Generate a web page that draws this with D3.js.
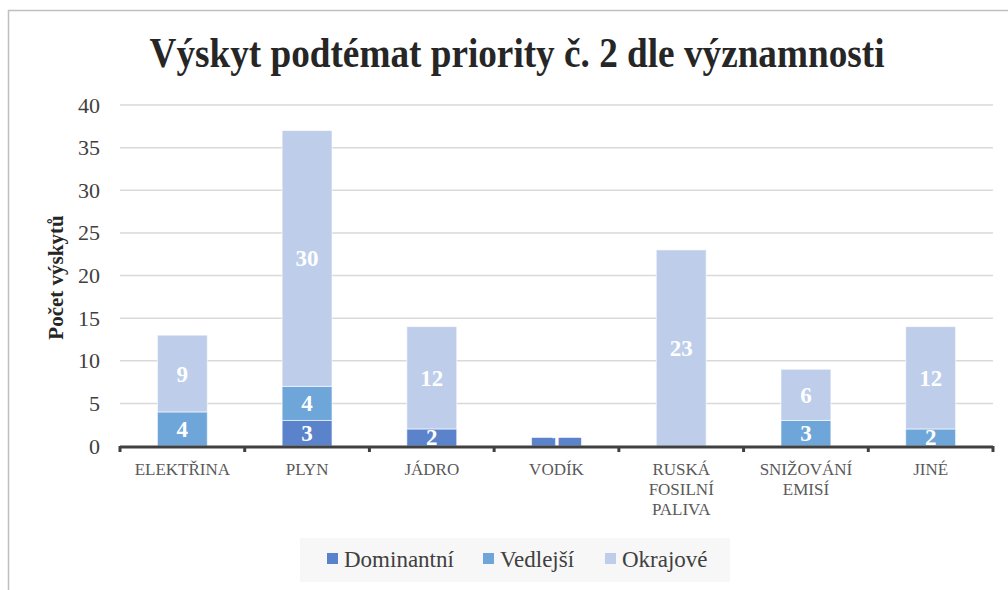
<!DOCTYPE html>
<html>
<head>
<meta charset="utf-8">
<script src="https://cdn.jsdelivr.net/npm/d3@7"></script>
<style>
  body { margin: 0; background: #fff; }
</style>
</head>
<body>
<svg id="chart" width="1008" height="590" font-family="Liberation Serif"></svg>
<script>
// data
const categories = [["ELEKTŘINA"], ["PLYN"], ["JÁDRO"], ["VODÍK"], ["RUSKÁ", "FOSILNÍ", "PALIVA"], ["SNIŽOVÁNÍ", "EMISÍ"], ["JINÉ"]];
const seriesNames = ["Dominantní", "Vedlejší", "Okrajové"];
const dominantni = [0, 3, 2, 1, 0, 0, 0];
const vedlejsi = [4, 4, 0, 0, 0, 3, 2];
const okrajove = [9, 30, 12, 0, 23, 6, 12];
const yTicks = [0, 5, 10, 15, 20, 25, 30, 35, 40];
const colors = ["#5b83cb", "#6fa6da", "#bdcdea"];

const FONT = "Liberation Serif";
const svg = d3.select("#chart");
const margin = { left: 120, right: 15, top: 105, bottom: 144 };
const width = 1008, height = 590;

// outer frame
svg.append("rect")
    .attr("x", 8.5).attr("y", 10.5)
    .attr("width", 1010).attr("height", 600)
    .attr("fill", "#fff")
    .attr("stroke", "#bfbfbf")
    .attr("stroke-width", 1.5);

svg.append("text")
    .attr("x", 517).attr("y", 67)
    .attr("text-anchor", "middle")
    .attr("font-size", 42)
    .attr("font-weight", "bold")
    .attr("fill", "#262626")
    .attr("textLength", 735)
    .attr("lengthAdjust", "spacingAndGlyphs")
    .text("Výskyt podtémat priority č. 2 dle významnosti");

const x = d3.scaleBand()
    .domain(d3.range(categories.length))
    .range([margin.left, width - margin.right])
    .paddingInner(0.6)
    .paddingOuter(0.3);

const y = d3.scaleLinear()
    .domain([0, 40])
    .range([height - margin.bottom, margin.top]);

// gridlines
svg.append("g")
    .selectAll("line")
    .data(yTicks.slice(1))
    .join("line")
    .attr("x1", margin.left).attr("x2", width - margin.right)
    .attr("y1", d => y(d)).attr("y2", d => y(d))
    .attr("stroke", "#d9d9d9")
    .attr("stroke-width", 1.5);

// y axis labels
const yAxis = svg.append("g")
    .attr("transform", `translate(${margin.left - 8},0)`)
    .call(d3.axisLeft(y).tickValues(yTicks).tickSize(0).tickPadding(12));
yAxis.select(".domain").remove();
yAxis.attr("font-family", FONT);
yAxis.selectAll("text")
    .attr("font-size", 22)
    .attr("fill", "#404040");

svg.append("text")
    .attr("transform", `translate(63,${(y(0) + y(40)) / 2 + 2}) rotate(-90)`)
    .attr("text-anchor", "middle")
    .attr("font-size", 21)
    .attr("font-weight", "bold")
    .attr("fill", "#262626")
    .text("Počet výskytů");

// stacked bars
const rows = categories.map((c, i) => ({ i, Dominantní: dominantni[i], Vedlejší: vedlejsi[i], Okrajové: okrajove[i] }));
const stack = d3.stack().keys(seriesNames)(rows);

const layers = svg.append("g")
    .selectAll("g")
    .data(stack)
    .join("g")
    .attr("fill", (d, k) => colors[k]);

layers.selectAll("rect")
    .data(d => d.filter(p => p[1] > p[0]))
    .join("rect")
    .attr("x", d => x(d.data.i))
    .attr("width", x.bandwidth())
    .attr("y", d => y(d[1]))
    .attr("height", d => y(d[0]) - y(d[1]))
    .attr("stroke", "#fff")
    .attr("stroke-opacity", 0.6)
    .attr("stroke-width", 1);

// data labels
layers.selectAll("text")
    .data(d => d.filter(p => p[1] > p[0]))
    .join("text")
    .attr("x", d => x(d.data.i) + x.bandwidth() / 2)
    .attr("y", d => (y(d[0]) + y(d[1])) / 2 + 8)
    .attr("text-anchor", "middle")
    .attr("font-size", 23)
    .attr("font-weight", "bold")
    .attr("fill", "#fff")
    .text(d => d[1] - d[0]);

// x axis
const xAxisG = svg.append("g");
xAxisG.append("line")
    .attr("x1", margin.left).attr("x2", width - margin.right)
    .attr("y1", y(0) + 1).attr("y2", y(0) + 1)
    .attr("stroke", "#404040")
    .attr("stroke-width", 3);
xAxisG.selectAll("line.tick")
    .data(d3.range(categories.length + 1))
    .join("line")
    .attr("class", "tick")
    .attr("x1", i => margin.left + i * (width - margin.left - margin.right) / categories.length)
    .attr("x2", i => margin.left + i * (width - margin.left - margin.right) / categories.length)
    .attr("y1", y(0)).attr("y2", y(0) + 6)
    .attr("stroke", "#404040")
    .attr("stroke-width", 3);

xAxisG.selectAll("text")
    .data(categories)
    .join("text")
    .attr("x", (d, i) => x(i) + x.bandwidth() / 2)
    .attr("y", y(0) + 29)
    .attr("text-anchor", "middle")
    .attr("font-size", 17)
    .attr("fill", "#595959")
    .selectAll("tspan")
    .data(d => d)
    .join("tspan")
    .attr("x", function () { return this.parentNode.getAttribute("x"); })
    .attr("dy", (d, j) => j === 0 ? 0 : 20)
    .text(d => d);

// legend
const legend = svg.append("g");
legend.append("rect")
    .attr("x", 300).attr("y", 538)
    .attr("width", 430).attr("height", 44)
    .attr("fill", "#f7f7f7");
const legendX = [327, 483, 605];
seriesNames.forEach((name, k) => {
    legend.append("rect")
        .attr("x", legendX[k]).attr("y", 553)
        .attr("width", 11).attr("height", 11)
        .attr("fill", colors[k]);
    legend.append("text")
        .attr("x", legendX[k] + 17).attr("y", 567)
        .attr("font-size", 23)
        .attr("fill", "#404040")
        .text(name);
});

svg.selectAll("text, tspan").attr("font-family", FONT).style("font-family", FONT);
</script>
</body>
</html>
